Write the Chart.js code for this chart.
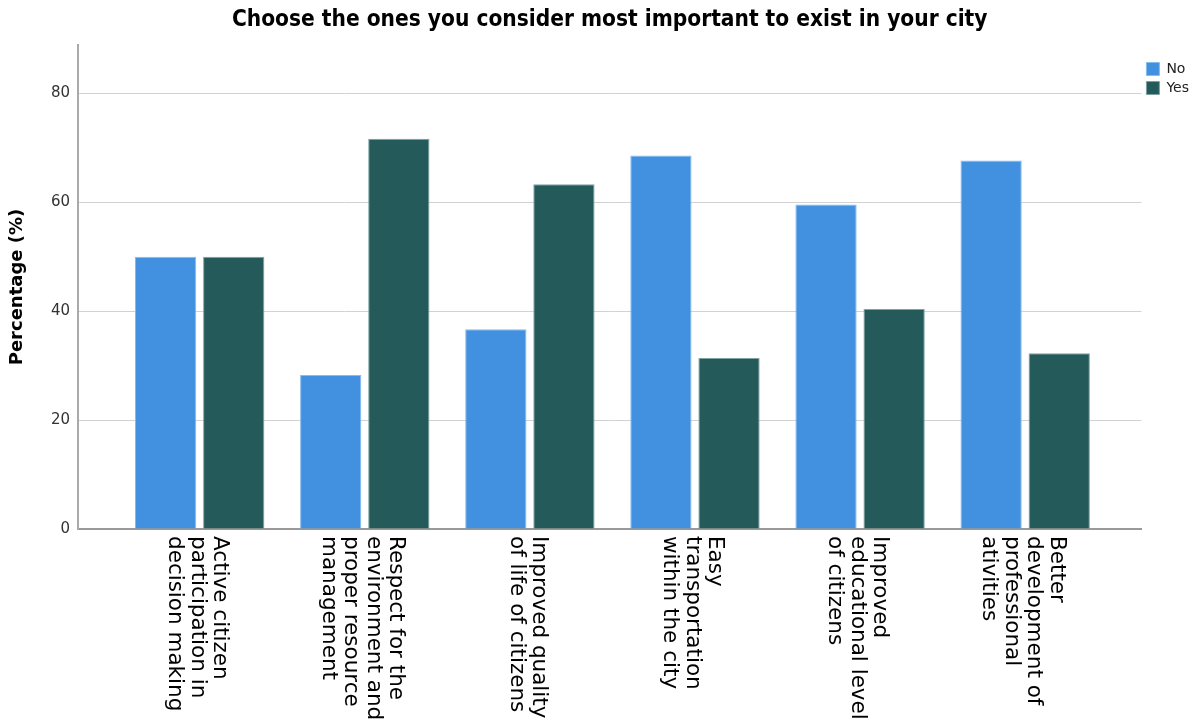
<!DOCTYPE html>
<html lang="en">
<head>
    <meta charset="UTF-8">
    <title>Choose the ones you consider most important to exist in your city</title>
    <script src="https://cdn.jsdelivr.net/npm/chart.js"></script>
    <style>
        body { margin: 0; background: #fff; }
    </style>
</head>
<body>
    <canvas id="importanceChart" width="1199" height="721"></canvas>

    <script>
// category labels, one entry per line as in the picture
const categories = [
    ["Active citizen", "participation in", "decision making"],
    ["Respect for the", "environment and", "proper resource", "management"],
    ["Improved quality", "of life of citizens"],
    ["Easy", "transportation", "within the city"],
    ["Improved", "educational level", "of citizens"],
    ["Better", "development of", "professional", "ativities"]
];
const seriesNames = ["No", "Yes"];
const noValues = [50.0, 28.3, 36.7, 68.6, 59.6, 67.7];
const yesValues = [50.0, 71.7, 63.3, 31.4, 40.4, 32.3];
const yTicks = [0, 20, 40, 60, 80];

// draws the category labels turned a quarter turn clockwise under the axis
const rotatedLabels = {
    id: "rotatedLabels",
    afterDraw(chart) {
        const xs = chart.scales.x;
        const ctx = chart.ctx;
        const lh = 22.5;
        ctx.save();
        ctx.font = '21.5px "DejaVu Sans"';
        ctx.fillStyle = "#000";
        ctx.textAlign = "left";
        ctx.textBaseline = "top";
        categories.forEach((lines, i) => {
            const cx = xs.getPixelForValue(i);
            ctx.save();
            ctx.translate(cx - 3 + lines.length * lh / 2, xs.top + 7);
            ctx.rotate(Math.PI / 2);
            lines.forEach((line, k) => ctx.fillText(line, 0, k * lh));
            ctx.restore();
        });
        ctx.restore();
    }
};

const ctx = document.getElementById("importanceChart").getContext("2d");
new Chart(ctx, {
    type: "bar",
    data: {
        datasets: [{
            label: seriesNames[0],
            data: noValues.map((v, i) => ({ x: i, y: v })),
            backgroundColor: "#4191e0",
            borderColor: "#86bbee",
            borderWidth: 1
        }, {
            label: seriesNames[1],
            data: yesValues.map((v, i) => ({ x: i, y: v })),
            backgroundColor: "#255a5a",
            borderColor: "#7fa3a3",
            borderWidth: 1
        }]
    },
    options: {
        responsive: false,
        animation: false,
        categoryPercentage: 0.825,
        barPercentage: 0.9,
        layout: { padding: 0 },
        plugins: {
            title: {
                display: true,
                text: "Choose the ones you consider most important to exist in your city",
                fullSize: false,
                color: "#000",
                font: { family: '"DejaVu Sans Condensed", "DejaVu Sans"', weight: "bold", size: 22.5 },
                padding: { top: 7, bottom: 11 }
            },
            legend: {
                position: "right",
                align: "start",
                fullSize: false,
                title: { display: true, text: " ", font: { size: 10 }, padding: 0 },
                labels: {
                    boxWidth: 13,
                    boxHeight: 13,
                    padding: 5,
                    color: "#222",
                    font: { family: '"DejaVu Sans"', size: 14 }
                }
            },
            tooltip: { enabled: false }
        },
        scales: {
            x: {
                type: "linear",
                min: -0.737,
                max: 5.704,
                offset: false,
                grid: { display: false },
                ticks: { display: false },
                border: { color: "#999", width: 2 },
                afterBuildTicks: (s) => { s.ticks = categories.map((c, i) => ({ value: i })); },
                afterFit: (s) => { s.height = 192; }
            },
            y: {
                min: 0,
                max: 88.9,
                ticks: {
                    stepSize: 20,
                    padding: 8,
                    color: "#333",
                    font: { family: '"DejaVu Sans"', size: 15 }
                },
                afterBuildTicks: (s) => { s.ticks = yTicks.map(v => ({ value: v })); },
                afterFit: (s) => { s.width = 78; },
                grid: { color: "#d2d2d2", drawTicks: false },
                border: { color: "#aaa", width: 2 },
                title: {
                    display: true,
                    text: "Percentage (%)",
                    color: "#000",
                    font: { family: '"DejaVu Sans"', weight: "bold", size: 18 },
                    padding: { top: 7, bottom: 0 }
                }
            }
        }
    },
    plugins: [rotatedLabels]
});
    </script>
</body>
</html>
